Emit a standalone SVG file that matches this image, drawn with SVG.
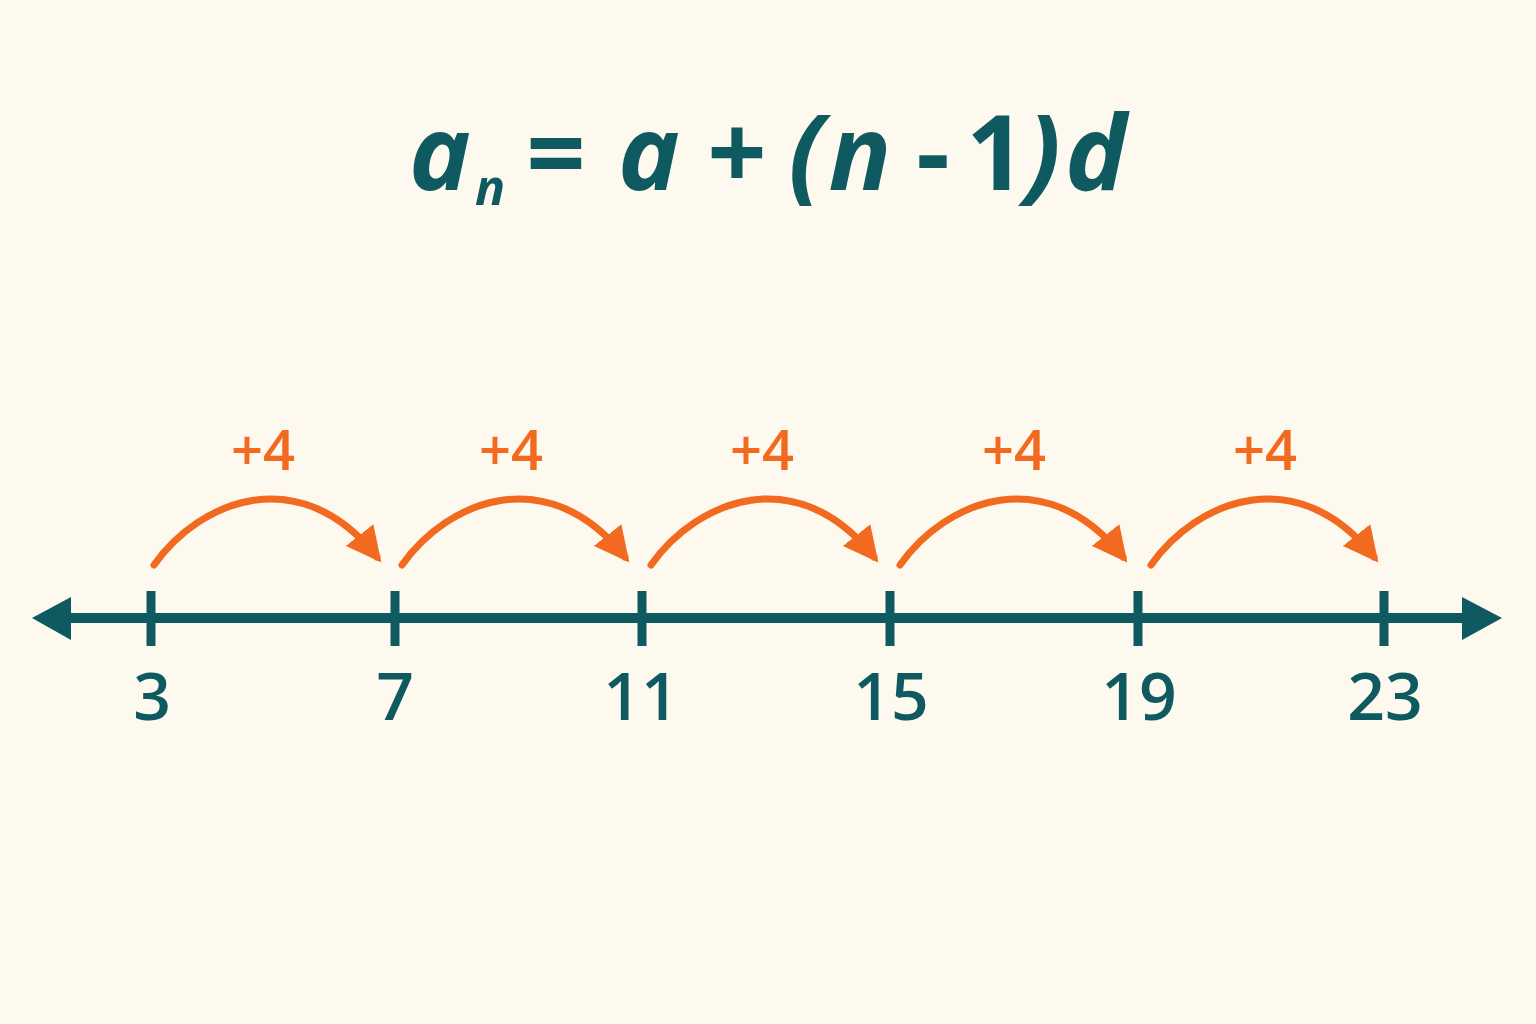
<svg xmlns="http://www.w3.org/2000/svg" width="1536" height="1024" viewBox="0 0 1536 1024">
<defs>
<style>
.ax{stroke:#0E5A60;stroke-width:10;fill:none}
.tk{stroke:#0E5A60;stroke-width:9}
.num{font-family:"Open Sans","Liberation Sans",sans-serif;font-weight:600;font-size:66px;fill:#0E5A60;text-anchor:middle}
.inc{font-family:"Open Sans","Liberation Sans",sans-serif;font-weight:600;font-size:56px;fill:#F26A1F;text-anchor:middle}
.arc{stroke:#F26A1F;stroke-width:7;fill:none;stroke-linecap:round;marker-end:url(#oh)}
.f{font-family:"Open Sans","Liberation Sans",sans-serif;font-weight:bold;font-size:104px;fill:#0E5A60;text-anchor:middle}
.fi{font-style:italic}
</style>
<marker id="oh" viewBox="0 0 10 10" refX="8" refY="5" markerWidth="5" markerHeight="5" orient="auto" markerUnits="strokeWidth">
<path d="M0,0 L10,5 L0,10 Z" fill="#F26A1F"/>
</marker>
</defs>
<rect width="1536" height="1024" fill="#FDF9EF"/>
<g id="formula">
<text class="f fi" x="440" y="190">a</text>
<text class="f fi" x="490" y="205" style="font-size:50px">n</text>
<text class="f" x="556" y="190">=</text>
<text class="f fi" x="649" y="190">a</text>
<text class="f" x="737" y="190">+</text>
<text class="f fi" x="806" y="190">(</text>
<text class="f fi" x="860" y="190">n</text>
<text class="f" x="933" y="190">-</text>
<text class="f" x="996" y="190">1</text>
<text class="f fi" x="1043" y="190">)</text>
<text class="f fi" x="1096" y="190">d</text>
</g>
<g id="axis">
<line class="ax" x1="60" y1="618" x2="1472" y2="618"/>
<path d="M32,618 L71,597 L71,640 Z" fill="#0E5A60"/>
<path d="M1502,618 L1462,597 L1462,640 Z" fill="#0E5A60"/>
</g>
<g id="ticks">
<line class="tk" x1="151" y1="591" x2="151" y2="646"/>
<line class="tk" x1="395" y1="591" x2="395" y2="646"/>
<line class="tk" x1="642" y1="591" x2="642" y2="646"/>
<line class="tk" x1="890" y1="591" x2="890" y2="646"/>
<line class="tk" x1="1138" y1="591" x2="1138" y2="646"/>
<line class="tk" x1="1384" y1="591" x2="1384" y2="646"/>
</g>
<g id="labels">
<text class="num" x="152" y="720">3</text>
<text class="num" x="395" y="720">7</text>
<text class="num" x="641" y="720">11</text>
<text class="num" x="891" y="720">15</text>
<text class="num" x="1139" y="720">19</text>
<text class="num" x="1385" y="720">23</text>
</g>
<g id="connectors">
<path class="arc" d="M154,565 C200,500 300,460 377,557"/>
<path class="arc" d="M402,565 C448,500 548,460 625,557"/>
<path class="arc" d="M651,565 C697,500 797,460 874,557"/>
<path class="arc" d="M900,565 C946,500 1046,460 1123,557"/>
<path class="arc" d="M1151,565 C1197,500 1297,460 1374,557"/>
</g>
<g id="increments">
<text class="inc" x="263" y="470">+4</text>
<text class="inc" x="511" y="470">+4</text>
<text class="inc" x="762" y="470">+4</text>
<text class="inc" x="1014" y="470">+4</text>
<text class="inc" x="1265" y="470">+4</text>
</g>
</svg>
